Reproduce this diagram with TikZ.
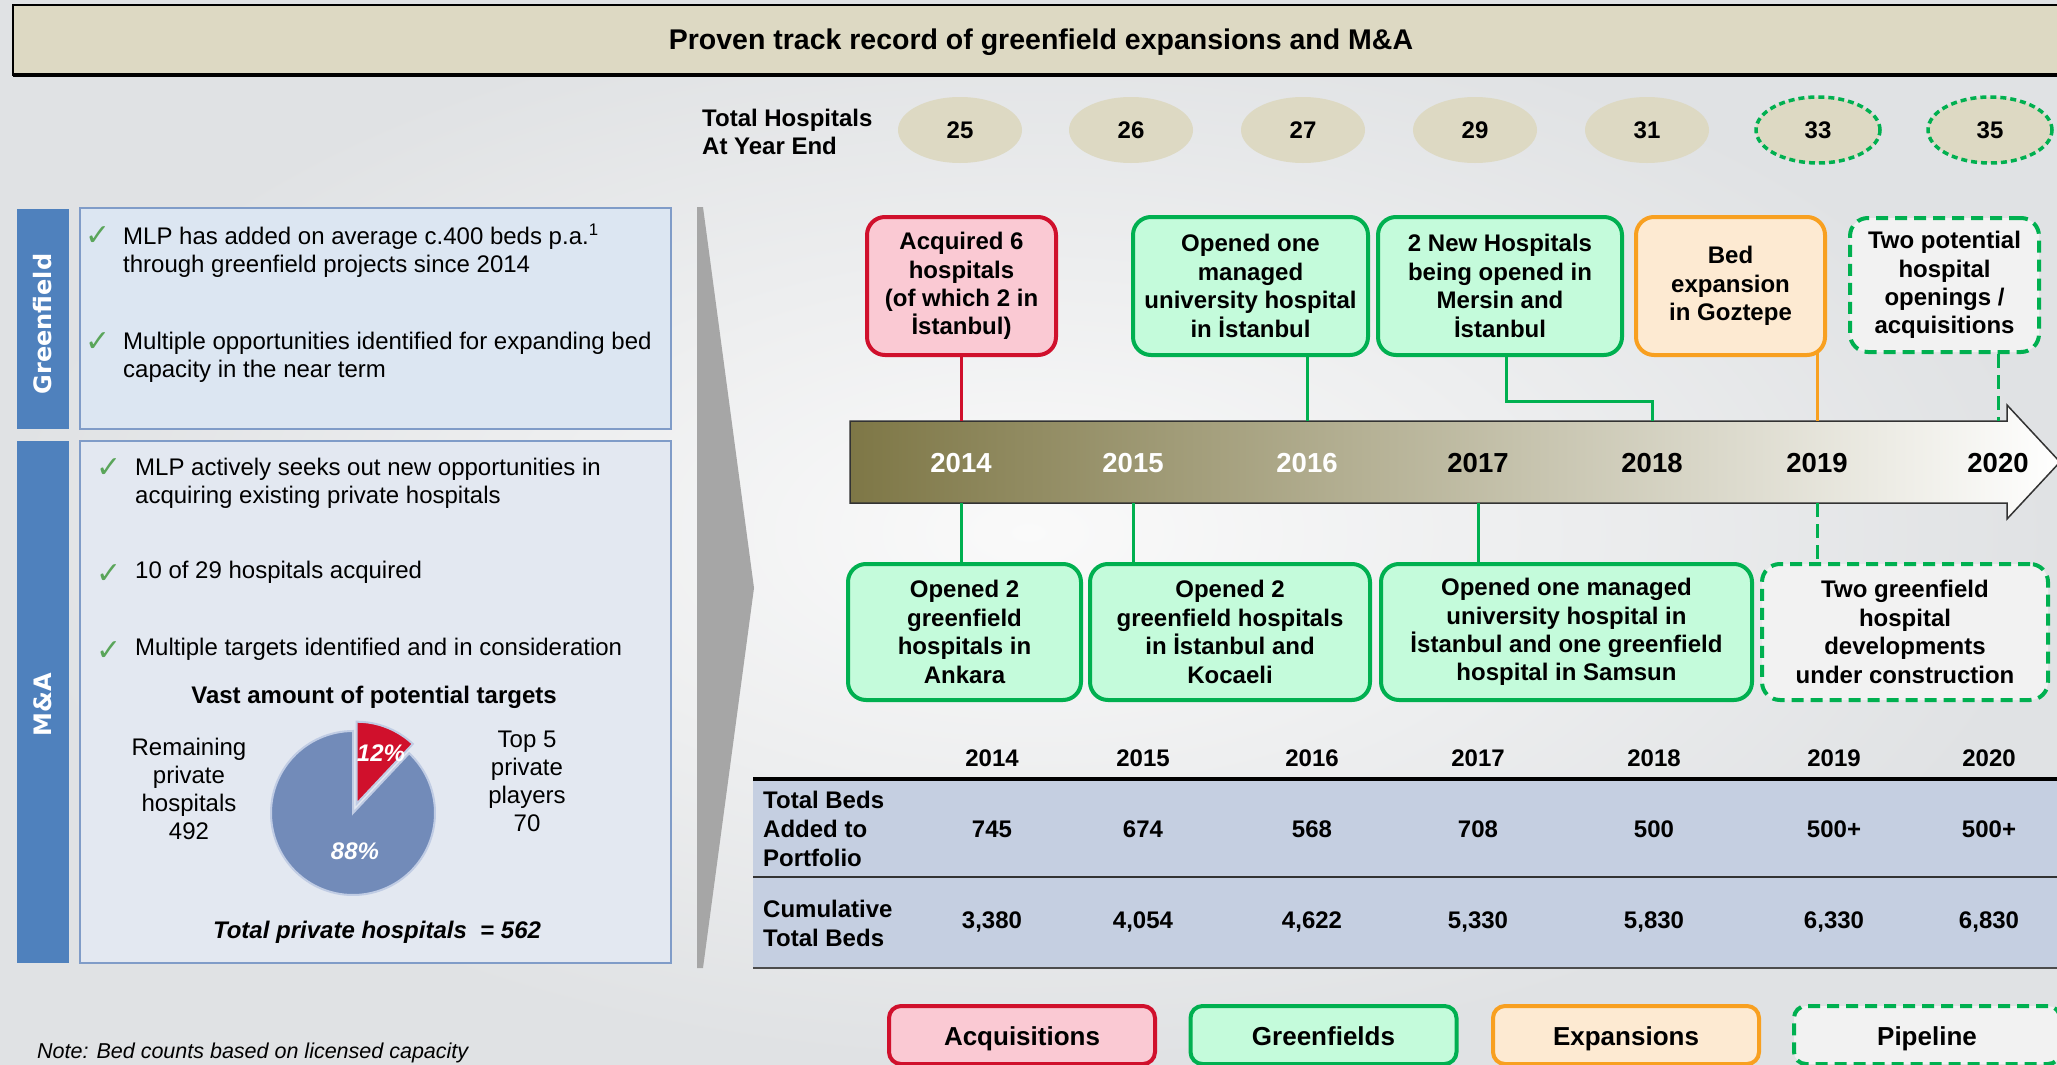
\documentclass[tikz,border=0pt]{standalone}
\usepackage{fontspec}
\setmainfont{Liberation Sans}
\newfontfamily\symfont{DejaVu Sans}
\newfontfamily\barfont{DejaVu Sans}
\usetikzlibrary{shapes.geometric,calc}

\definecolor{titletan}{RGB}{221,217,195}
\definecolor{acqred}{RGB}{208,16,44}
\definecolor{acqpink}{RGB}{250,201,211}
\definecolor{grngreen}{RGB}{0,176,80}
\definecolor{grnmint}{RGB}{196,251,219}
\definecolor{exporange}{RGB}{248,160,32}
\definecolor{expcream}{RGB}{253,234,210}
\definecolor{pipgray}{RGB}{242,242,242}
\definecolor{barblue}{RGB}{79,129,189}
\definecolor{gfbox}{RGB}{220,230,242}
\definecolor{mabox}{RGB}{227,232,241}
\definecolor{boxedge}{RGB}{128,156,200}
\definecolor{tablefill}{RGB}{197,207,225}
\definecolor{pieblue}{RGB}{114,139,185}
\definecolor{pieedge}{RGB}{192,204,228}
\definecolor{piered}{RGB}{208,16,44}
\definecolor{arrowolive}{RGB}{126,119,70}
\definecolor{arrowmid}{RGB}{204,200,187}
\definecolor{chevgray}{RGB}{166,166,166}
\definecolor{checkgreen}{RGB}{90,165,90}
\definecolor{bggray}{RGB}{224,226,228}

\newcommand{\evfont}{\fontsize{24}{28.4}\selectfont\bfseries}
\newcommand{\bodyfont}{\fontsize{24}{28}\selectfont}
\newcommand{\yearfont}{\fontsize{27.5}{32}\selectfont\bfseries}
\newcommand{\legfont}{\fontsize{26}{30}\selectfont\bfseries}

\begin{document}
\begin{tikzpicture}[x=1pt, y=-1pt,
    evbox/.style={rounded corners=18pt, line width=4pt, align=center, font=\evfont, inner sep=0pt},
    topbox/.style={evbox, minimum height=138pt},
    lowbox/.style={evbox, minimum height=136pt},
    acqbox/.style={draw=acqred, fill=acqpink},
    grnbox/.style={draw=grngreen, fill=grnmint},
    expbox/.style={draw=exporange, fill=expcream},
    pipbox/.style={draw=grngreen, fill=pipgray, dash pattern=on 12pt off 7pt},
    legbox/.style={rounded corners=12pt, line width=4pt, font=\legfont, inner sep=0pt, text height=20pt, text depth=0pt, minimum width=266pt, minimum height=58pt},
    countell/.style={ellipse, fill=titletan, minimum width=124pt, minimum height=66pt, inner sep=0pt, font=\evfont},
    pipell/.style={countell, draw=grngreen, line width=3.5pt, dash pattern=on 6pt off 4pt},
    yrlight/.style={font=\yearfont, text=white},
    yrdark/.style={font=\yearfont},
    acqline/.style={draw=acqred, line width=3pt},
    grnline/.style={draw=grngreen, line width=3pt},
    expline/.style={draw=exporange, line width=3pt},
    pipline/.style={draw=grngreen, line width=3pt, dash pattern=on 14pt off 7pt},
    sidelbl/.style={rotate=90, text=white, font=\barfont\bfseries\fontsize{24}{28}\selectfont},
    tick/.style={text=checkgreen, font=\symfont\fontsize{30}{34}\selectfont, inner sep=0pt},
    bullet/.style={anchor=west, align=left, font=\bodyfont, inner sep=0pt},
    plain/.style={align=center, font=\bodyfont, inner sep=0pt},
    cell/.style={font=\evfont, inner sep=0pt},
    rowlbl/.style={anchor=west, align=left, font=\fontsize{24}{29}\selectfont\bfseries, inner sep=0pt},
    pctlbl/.style={text=white, font=\evfont\itshape, inner sep=0pt}]

    % Background
    \useasboundingbox (0,0) rectangle (2057,1065);
    \shade[inner color=gray!4, outer color=bggray] (0,0) rectangle (2057,1065);

    % Title bar
    \draw[fill=titletan, line width=2pt] (13,5) rectangle (2070,75);
    \draw[line width=4pt] (13,75) -- (2070,75);
    \node[font=\fontsize{28.5}{32}\selectfont\bfseries] (title) at (1041,42) {Proven track record of greenfield expansions and M\&A};

    % Hospitals at year end
    \node[anchor=west, align=left, font=\evfont, inner sep=0pt] (hosplbl) at (702,132) {Total Hospitals\\At Year End};
    \node[countell] (n14) at (960,130) {25};
    \node[countell] (n15) at (1131,130) {26};
    \node[countell] (n16) at (1303,130) {27};
    \node[countell] (n17) at (1475,130) {29};
    \node[countell] (n18) at (1647,130) {31};
    \node[pipell] (n19) at (1818,130) {33};
    \node[pipell] (n20) at (1990,130) {35};

    % Greenfield panel
    \fill[barblue] (17,209) rectangle (69,429);
    \node[sidelbl] (gflbl) at (43,324) {Greenfield};
    \draw[fill=gfbox, draw=boxedge, line width=2pt] (80,208) rectangle (671,429);
    \node[tick] (gfck1) at (98,236) {✓};
    \node[bullet] (gftxt1) at (123,251) {MLP has added on average c.400 beds p.a.\textsuperscript{1}\\through greenfield projects since 2014};
    \node[tick] (gfck2) at (98,342) {✓};
    \node[bullet] (gftxt2) at (123,357) {Multiple opportunities identified for expanding bed\\capacity in the near term};

    % M&A panel
    \fill[barblue] (17,441) rectangle (69,963);
    \node[sidelbl] (malbl) at (43,705) {M\&A};
    \draw[fill=mabox, draw=boxedge, line width=2pt] (80,441) rectangle (671,963);
    \node[tick] (mack1) at (109,468) {✓};
    \node[bullet] (matxt1) at (135,483) {MLP actively seeks out new opportunities in\\acquiring existing private hospitals};
    \node[tick] (mack2) at (109,574) {✓};
    \node[bullet] (matxt2) at (135,572) {10 of 29 hospitals acquired};
    \node[tick] (mack3) at (109,651) {✓};
    \node[bullet] (matxt3) at (135,649) {Multiple targets identified and in consideration};
    \node[font=\evfont, inner sep=0pt] (pietitle) at (374,697) {Vast amount of potential targets};

    % Pie of private hospitals
    \coordinate (pc) at (353,813);
    \filldraw[fill=pieblue, draw=pieedge, line width=2pt] (pc) -- ($(pc)+(46.8:82pt)$) arc[start angle=46.8, end angle=-270, radius=82pt] -- cycle;
    \filldraw[fill=piered, draw=pieedge, line width=2pt] ($(pc)+(68.4:10pt)$) -- ++(90:82pt) arc[start angle=90, end angle=46.8, radius=82pt] -- cycle;
    \node[pctlbl] (pct12) at (381,753) {12\%};
    \node[pctlbl] (pct88) at (355,851) {88\%};
    \node[plain] (remlbl) at (189,789) {Remaining\\private\\hospitals\\492};
    \node[plain] (toplbl) at (527,781) {Top 5\\private\\players\\70};
    \node[font=\evfont\itshape, inner sep=0pt] (pietotal) at (377,932) {Total private hospitals\ \ = 562};

    % Chevron
    \fill[chevgray] (697,207) -- (703,207) -- (754,588) -- (703,968) -- (697,968) -- cycle;

    % Timeline arrow
    \shade[left color=arrowolive, middle color=arrowmid, right color=white, draw=black!80, line width=1.5pt]
        (850,421) -- (2007,421) -- (2007,405) -- (2060,462) -- (2007,519) -- (2007,503) -- (850,503) -- cycle;
    \coordinate (arrtop) at (0,421);
    \coordinate (arrbot) at (0,503);
    \node[yrlight] (y14) at (961,463) {2014};
    \node[yrlight] (y15) at (1133,463) {2015};
    \node[yrlight] (y16) at (1307,463) {2016};
    \node[yrdark] (y17) at (1478,463) {2017};
    \node[yrdark] (y18) at (1652,463) {2018};
    \node[yrdark] (y19) at (1817,463) {2019};
    \node[yrdark] (y20) at (1998,463) {2020};

    % Events above the arrow
    \node[topbox, acqbox, minimum width=189pt] (acq14) at (961.5,286) {Acquired 6\\hospitals\\(of which 2 in\\İstanbul)};
    \node[topbox, grnbox, minimum width=235pt] (grn16) at (1250.5,286) {Opened one\\managed\\university hospital\\in İstanbul};
    \node[topbox, grnbox, minimum width=244pt] (grn18) at (1500,286) {2 New Hospitals\\being opened in\\Mersin and\\İstanbul};
    \node[topbox, expbox, minimum width=189pt] (exp19) at (1730.5,286) {Bed\\expansion\\in Goztepe};
    \node[topbox, pipbox, minimum width=189pt, minimum height=134pt] (pip20) at (1944.5,285) {Two potential\\hospital\\openings /\\acquisitions};

    \draw[acqline] (acq14.south -| y14) -- (y14 |- arrtop);
    \draw[grnline] (grn16.south -| y16) -- (y16 |- arrtop);
    \draw[grnline] ([xshift=6pt]grn18.south) -- ++(0,44) -| (y18 |- arrtop);
    \draw[expline] ([yshift=4pt]exp19.south -| y19) -- (y19 |- arrtop);
    \draw[pipline] (pip20.south -| y20) -- (y20 |- arrtop);

    % Events below the arrow
    \node[lowbox, grnbox, minimum width=233pt] (grn14) at (964.5,632) {Opened 2\\greenfield\\hospitals in\\Ankara};
    \node[lowbox, grnbox, minimum width=280pt] (grn15) at (1230,632) {Opened 2\\greenfield hospitals\\in İstanbul and\\Kocaeli};
    \node[lowbox, grnbox, minimum width=371pt] (grn17) at (1566.5,632) {Opened one managed\\university hospital in\\İstanbul and one greenfield\\hospital in Samsun};
    \node[lowbox, pipbox, minimum width=286pt] (pip19) at (1905,632) {Two greenfield\\hospital\\developments\\under construction};

    \draw[grnline] (y14 |- arrbot) -- (grn14.north -| y14);
    \draw[grnline] (y15 |- arrbot) -- (grn15.north -| y15);
    \draw[grnline] (y17 |- arrbot) -- (grn17.north -| y17);
    \draw[pipline] (y19 |- arrbot) -- (pip19.north -| y19);

    % Bed table
    \fill[tablefill] (753,779) rectangle (2060,968);
    \draw[line width=4pt] (753,779) -- (2060,779);
    \draw[line width=1.5pt, black!80] (753,877) -- (2060,877);
    \draw[line width=2.5pt, black!70] (753,968) -- (2060,968);
    \node[cell] (th14) at (992,758) {2014};
    \node[cell] (th15) at (1143,758) {2015};
    \node[cell] (th16) at (1312,758) {2016};
    \node[cell] (th17) at (1478,758) {2017};
    \node[cell] (th18) at (1654,758) {2018};
    \node[cell] (th19) at (1834,758) {2019};
    \node[cell] (th20) at (1989,758) {2020};
    \node[rowlbl] (addlbl) at (763,829) {Total Beds\\Added to\\Portfolio};
    \node[cell] (add14) at (992,829) {745};
    \node[cell] (add15) at (1143,829) {674};
    \node[cell] (add16) at (1312,829) {568};
    \node[cell] (add17) at (1478,829) {708};
    \node[cell] (add18) at (1654,829) {500};
    \node[cell] (add19) at (1834,829) {500+};
    \node[cell] (add20) at (1989,829) {500+};
    \node[rowlbl] (cumlbl) at (763,923) {Cumulative\\Total Beds};
    \node[cell] (cum14) at (992,922) {3,380};
    \node[cell] (cum15) at (1143,922) {4,054};
    \node[cell] (cum16) at (1312,922) {4,622};
    \node[cell] (cum17) at (1478,922) {5,330};
    \node[cell] (cum18) at (1654,922) {5,830};
    \node[cell] (cum19) at (1834,922) {6,330};
    \node[cell] (cum20) at (1989,922) {6,830};

    % Legend
    \node[legbox, acqbox] (lgacq) at (1022,1035) {Acquisitions};
    \node[legbox, grnbox] (lggrn) at (1323.5,1035) {Greenfields};
    \node[legbox, expbox] (lgexp) at (1626,1035) {Expansions};
    \node[legbox, pipbox, rounded corners=12pt] (lgpip) at (1927,1035) {Pipeline};

    % Footnote
    \node[anchor=west, inner sep=0pt, font=\fontsize{21.5}{26}\selectfont\itshape] (note) at (37,1053) {Note: Bed counts based on licensed capacity};
\end{tikzpicture}
\end{document}
